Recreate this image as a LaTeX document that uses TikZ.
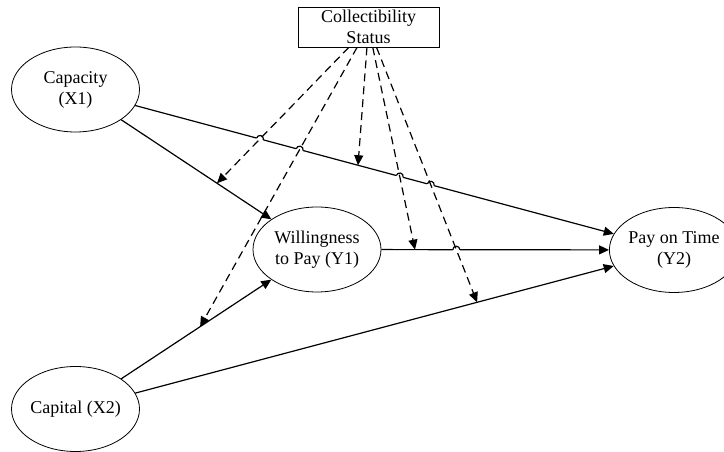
\documentclass[tikz,border=0pt]{standalone}
\usepackage{fontspec}
\setmainfont{Liberation Serif}
\usetikzlibrary{shapes.geometric,arrows.meta,calc,intersections}
\newcommand\myhop[3]{%
  \draw[white, line width=3pt] let \p1=($(#3)-(#2)$), \n1={atan2(\y1,\x1)} in
    ($(#1)+(\n1:-3.5)$) -- ($(#1)+(\n1:3.5)$);
  \draw[hopline] let \p1=($(#3)-(#2)$), \n1={atan2(\y1,\x1)} in
    ($(#1)+(\n1:-3.5)$) arc[start angle=\n1+180, delta angle=-180, radius=3.5];
}
\begin{document}
\begin{tikzpicture}[x=1pt,y=1pt,
  txt/.style={font=\fontsize{18}{21}\selectfont, align=center},
  ell/.style={txt, ellipse, draw, line width=0.8pt, minimum width=128pt, minimum height=85pt, inner sep=0pt},
  boxst/.style={txt, rectangle, draw, line width=0.8pt, minimum width=141pt, minimum height=40pt, inner sep=0pt},
  solidarr/.style={line width=1.2pt, -{Triangle[length=10pt,width=9pt]}},
  dasharr/.style={line width=1.2pt, dash pattern=on 8pt off 5pt, -{Triangle[length=10pt,width=9pt]}},
  hopline/.style={line width=1.2pt}]
\useasboundingbox (0,0) rectangle (724,452);
\node[boxst] (box) at (368.5,425) {Collectibility\\Status};
\node[ell] (cap) at (75.5,362.5) {Capacity\\(X1)};
\node[ell] (will) at (317,202.5) {Willingness\\to Pay (Y1)};
\node[ell] (pay) at (674,202) {Pay on Time\\(Y2)};
\node[ell] (capi) at (75.5,43) {Capital (X2)};
\draw[solidarr, name path=cp] (cap) -- (pay);
\draw[solidarr] (cap) -- (will);
\draw[solidarr] (capi) -- (will);
\draw[solidarr] (capi) -- (pay);
\draw[solidarr, name path=wp] (will) -- (pay);
\coordinate (m1) at ($(cap)!0.586!(will)$);
\coordinate (m2) at ($(capi)!0.516!(will)$);
\coordinate (m3) at ($(cap)!0.472!(pay)$);
\coordinate (m4) at ($(will)!0.2745!(pay)$);
\coordinate (m5) at ($(capi)!0.671!(pay)$);
\path[name path=d1] (box) -- (m1);
\path[name path=d2] (box) -- (m2);
\path[name path=d4] (box) -- (m4);
\path[name path=d5] (box) -- (m5);
\path[name intersections={of=cp and d1, by=h1}];
\path[name intersections={of=cp and d2, by=h2}];
\path[name intersections={of=cp and d4, by=h3}];
\path[name intersections={of=cp and d5, by=h4}];
\path[name intersections={of=wp and d5, by=h5}];
\myhop{h1}{cap}{pay}
\myhop{h2}{cap}{pay}
\myhop{h3}{cap}{pay}
\myhop{h4}{cap}{pay}
\myhop{h5}{will}{pay}
\draw[dasharr] (box) -- (m1);
\draw[dasharr] (box) -- (m2);
\draw[dasharr] (box) -- (m3);
\draw[dasharr] (box) -- (m4);
\draw[dasharr] (box) -- (m5);
\end{tikzpicture}
\end{document}
